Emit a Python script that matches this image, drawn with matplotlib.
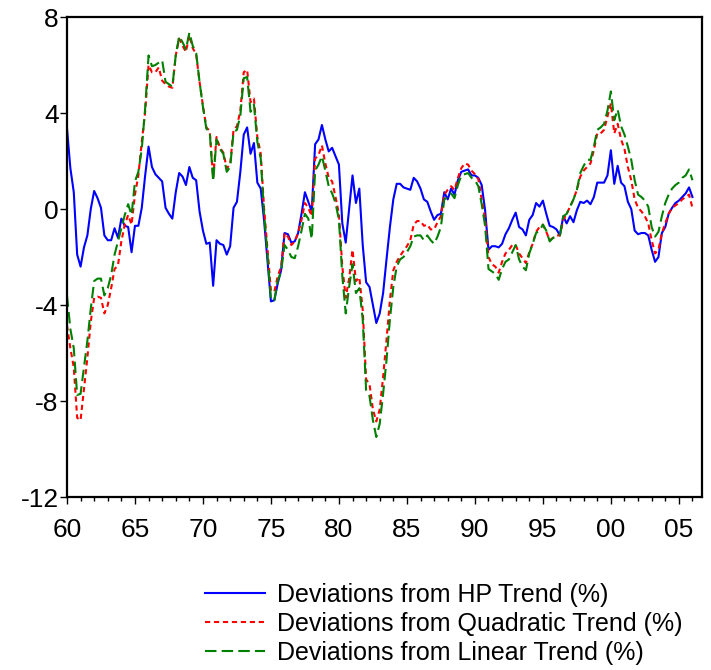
import numpy as np
import matplotlib
matplotlib.use('Agg')
import matplotlib.pyplot as plt
from matplotlib.ticker import MultipleLocator, FixedLocator

plt.rcParams['font.family'] = ['Liberation Sans', 'DejaVu Sans']
plt.rcParams['axes.unicode_minus'] = False

# quarterly observations, 1960Q1 onwards
hp_dev = [3.37, 1.7, 0.7, -1.9, -2.4, -1.6, -1.1, 0.0, 0.75, 0.45,
          0.05, -1.1, -1.3, -1.3, -0.8, -1.2, -0.4, -0.7, -0.75, -1.8,
          -0.7, -0.7, 0.05, 1.4, 2.6, 1.75, 1.45, 1.3, 1.15, 0.05,
          -0.2, -0.4, 0.7, 1.5, 1.35, 1.0, 1.75, 1.3, 1.2, -0.1,
          -0.9, -1.45, -1.4, -3.2, -1.3, -1.45, -1.5, -1.9, -1.55, 0.05,
          0.3, 1.55, 3.1, 3.4, 2.3, 2.75, 1.1, 0.85, -0.5, -2.2,
          -3.85, -3.8, -3.1, -2.55, -1.0, -1.05, -1.4, -1.35, -1.0, -0.2,
          0.7, 0.3, -0.1, 2.7, 2.9, 3.5, 2.9, 2.4, 2.55, 2.2,
          1.85, -0.6, -1.4, 0.0, 1.4, 0.25, 0.85, -1.5, -3.05, -3.25,
          -4.0, -4.75, -4.35, -3.5, -2.1, -0.75, 0.4, 1.05, 1.05, 0.9,
          0.85, 0.8, 1.3, 1.15, 0.85, 0.4, 0.3, -0.1, -0.45, -0.25,
          -0.2, 0.7, 0.4, 0.85, 0.6, 1.2, 1.55, 1.6, 1.65, 1.4,
          1.4, 1.3, 1.0, -0.05, -1.7, -1.55, -1.55, -1.6, -1.45, -1.05,
          -0.8, -0.45, -0.15, -0.75, -0.85, -1.1, -0.45, -0.25, 0.25, 0.1,
          0.35, -0.2, -0.7, -0.75, -0.85, -1.1, -0.3, -0.6, -0.3, -0.55,
          -0.05, 0.3, 0.25, 0.35, 0.2, 0.5, 1.1, 1.1, 1.1, 1.4,
          2.45, 1.05, 1.8, 1.1, 0.95, 0.3, 0.0, -0.9, -1.05, -1.0,
          -1.0, -1.1, -1.7, -2.2, -2.0, -1.0, -0.75, -0.2, 0.05, 0.25,
          0.35, 0.5, 0.65, 0.9, 0.5]

quad_dev = [-4.85, -5.8, -6.6, -8.7, -8.8, -7.5, -6.2, -4.7, -3.7, -3.65,
            -3.7, -4.35, -4.0, -3.3, -2.5, -2.35, -1.35, -0.65, -0.25, -0.65,
            0.6, 1.4, 2.8, 4.05, 6.0, 5.7, 5.7, 5.9, 5.35, 5.2,
            5.1, 5.05, 6.4, 7.1, 6.8, 6.55, 7.25, 6.7, 6.45, 5.3,
            4.3, 3.4, 3.25, 1.3, 3.0, 2.55, 2.35, 1.7, 1.85, 3.3,
            3.45, 4.1, 5.7, 5.8, 4.45, 4.6, 3.0, 2.3, 0.0, -1.7,
            -3.4, -3.45, -2.8, -2.4, -1.0, -1.15, -1.5, -1.35, -1.0, -0.45,
            0.25, 0.05, -0.3, 2.1, 2.25, 2.65, 1.9, 1.3, 1.15, 0.5,
            -0.2, -2.4, -3.7, -2.9, -1.7, -3.0, -2.85, -4.2, -7.1, -7.3,
            -8.35, -8.85, -8.35, -7.0, -5.45, -3.8, -2.55, -2.2, -1.95, -1.75,
            -1.55, -1.3, -0.65, -0.5, -0.5, -0.7, -0.65, -0.85, -0.85, -0.55,
            -0.3, 0.6, 0.8, 0.95, 0.8, 1.3, 1.7, 1.9, 1.85, 1.6,
            1.45, 1.25, 0.4, -0.4, -2.0, -2.3, -2.4, -2.65, -2.2, -1.85,
            -1.7, -1.5, -1.5, -1.85, -2.05, -2.25, -1.8, -1.45, -0.95, -0.75,
            -0.65, -0.95, -1.3, -1.2, -1.1, -1.1, -0.45, -0.2, 0.1, 0.4,
            0.8, 1.35, 1.6, 1.75, 1.9, 2.45, 3.15, 3.15, 3.3, 3.85,
            4.4, 3.15, 3.55, 2.9, 2.5, 1.75, 1.2, 0.4, 0.05, -0.1,
            -0.3, -0.6, -1.3, -1.85, -1.7, -1.0, -0.6, -0.2, 0.05, 0.15,
            0.25, 0.4, 0.5, 0.6, 0.05]

lin_dev = [-3.6, -5.0, -5.8, -7.75, -7.7, -6.6, -5.5, -4.15, -3.0, -2.9,
           -2.9, -3.6, -3.3, -2.75, -1.9, -1.35, -0.8, -0.25, 0.2, -0.25,
           1.15, 1.55, 2.5, 4.2, 6.4, 5.95, 6.0, 6.1, 6.2, 5.3,
           5.2, 5.1, 6.4, 7.2, 6.95, 6.65, 7.35, 6.8, 6.5, 5.3,
           4.25, 3.35, 3.2, 1.15, 2.9, 2.5, 2.3, 1.55, 1.75, 3.2,
           3.3, 3.9, 5.45, 5.5, 4.05, 4.35, 2.8, 2.1, -0.25, -1.9,
           -3.8, -3.8, -3.0, -2.6, -1.5, -1.7, -2.0, -2.05, -1.55, -0.9,
           -0.2, -0.4, -1.25, 1.6, 1.85, 2.2, 1.6, 0.95, 0.65, 0.25,
           -0.45, -2.8, -4.35, -3.25, -2.3, -3.5, -3.3, -4.6, -7.55, -7.8,
           -8.8, -9.5, -8.95, -7.7, -6.3, -4.6, -3.25, -2.4, -2.1, -2.0,
           -1.8, -1.55, -1.15, -1.1, -1.1, -1.3, -1.1, -1.3, -1.45, -1.15,
           -0.75, 0.4, 0.5, 0.65, 0.45, 1.0, 1.4, 1.45, 1.5, 1.3,
           1.2, 0.95, 0.2, -0.7, -2.5, -2.6, -2.7, -2.95, -2.5, -2.2,
           -2.1, -1.8, -1.5, -2.1, -2.4, -2.55, -1.85, -1.45, -1.0, -0.9,
           -0.65, -0.9, -1.35, -1.2, -1.15, -1.1, -0.3, -0.2, 0.1, 0.4,
           0.8, 1.5, 1.8, 2.05, 2.05, 2.6, 3.3, 3.4, 3.55, 4.1,
           4.9, 3.7, 4.15, 3.45, 3.1, 2.6, 2.05, 1.2, 0.6, 0.5,
           0.35, 0.1, -0.75, -1.15, -0.95, -0.3, 0.25, 0.6, 0.85, 1.0,
           1.1, 1.3, 1.4, 1.65, 1.2]

year_ticks = [1960, 1965, 1970, 1975, 1980, 1985, 1990, 1995, 2000, 2005]
year_labels = ['60', '65', '70', '75', '80', '85', '90', '95', '00', '05']

t = 1960 + np.arange(len(hp_dev)) / 4.0

fig = plt.figure(figsize=(7.11, 6.70), dpi=100)
ax = fig.add_axes([0.0942, 0.2582, 0.8931, 0.7164])

ax.plot(t, hp_dev, color='#0000ff', lw=1.5, linestyle='-',
        label='Deviations from HP Trend (%)')
ax.plot(t, quad_dev, color='#ff0000', lw=1.5, linestyle=(0, (2.5, 1.8)),
        label='Deviations from Quadratic Trend (%)')
ax.plot(t, lin_dev, color='#008000', lw=1.5, linestyle=(0, (5.5, 2.5)),
        label='Deviations from Linear Trend (%)')

ax.set_xlim(1960, 2006.7)
ax.set_ylim(-12, 8)
ax.xaxis.set_major_locator(FixedLocator(year_ticks))
ax.set_xticklabels(year_labels)
ax.xaxis.set_minor_locator(MultipleLocator(1))
ax.yaxis.set_major_locator(MultipleLocator(4))

for s in ax.spines.values():
    s.set_linewidth(1.6)
ax.tick_params(axis='both', which='major', direction='out', length=5,
               width=1, labelsize=19)
ax.tick_params(axis='x', which='major', pad=10)
ax.tick_params(axis='y', which='major', pad=1)
ax.tick_params(axis='x', which='minor', direction='out', length=3, width=1)

fig.legend(loc='upper left', bbox_to_anchor=(0.288, 0.1295),
           frameon=False, fontsize=18, handlelength=2.4, handletextpad=0.5,
           labelspacing=0.2, borderaxespad=0, borderpad=0)

fig.savefig('out.png', dpi=100)
